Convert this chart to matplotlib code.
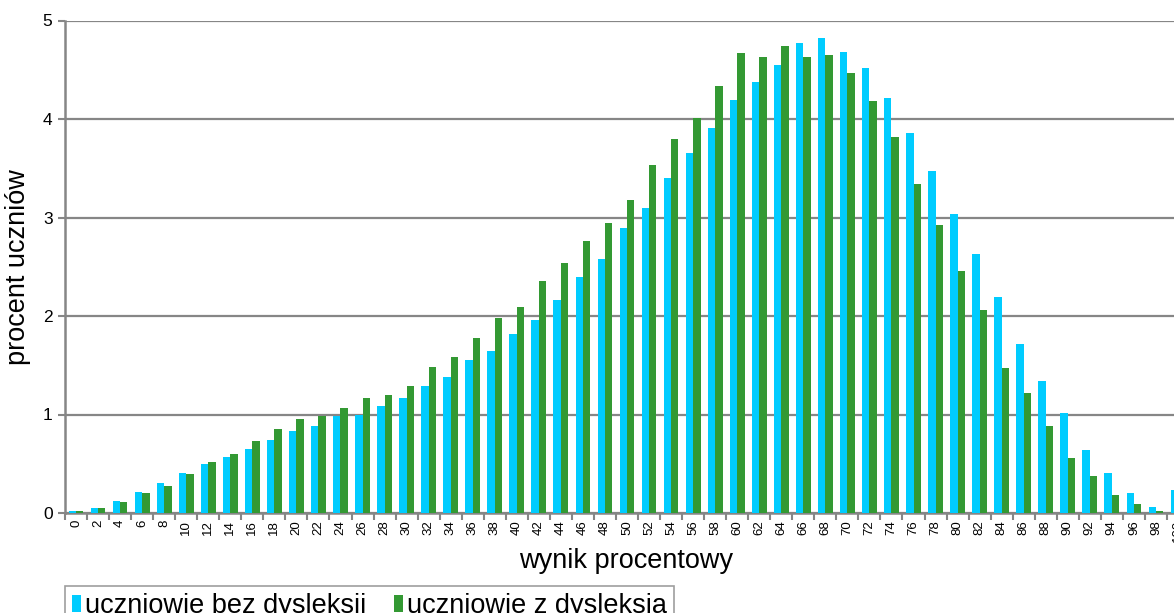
import numpy as np
import matplotlib.pyplot as plt
from matplotlib.patches import Patch

plt.rcParams['font.family'] = ['Liberation Sans', 'DejaVu Sans']

# Categories: percentage score 0..100 in steps of 2
wyniki = list(range(0, 101, 2))

# Percent of students
bez_dysleksji = [0.02, 0.05, 0.12, 0.21, 0.30, 0.41, 0.50, 0.57, 0.65, 0.74,
                 0.83, 0.88, 0.98, 1.00, 1.09, 1.17, 1.29, 1.38, 1.55, 1.64,
                 1.82, 1.96, 2.16, 2.40, 2.58, 2.89, 3.10, 3.40, 3.65, 3.91,
                 4.19, 4.38, 4.55, 4.77, 4.82, 4.68, 4.52, 4.21, 3.86, 3.47,
                 3.04, 2.63, 2.19, 1.72, 1.34, 1.02, 0.64, 0.41, 0.20, 0.06,
                 0.23]
z_dysleksja = [0.02, 0.05, 0.11, 0.20, 0.27, 0.40, 0.52, 0.60, 0.73, 0.85,
               0.95, 0.98, 1.07, 1.17, 1.20, 1.29, 1.48, 1.58, 1.78, 1.98,
               2.09, 2.36, 2.54, 2.76, 2.94, 3.18, 3.53, 3.80, 4.01, 4.33,
               4.67, 4.63, 4.74, 4.63, 4.65, 4.47, 4.18, 3.82, 3.34, 2.92,
               2.46, 2.06, 1.47, 1.22, 0.885, 0.56, 0.38, 0.18, 0.09, 0.024,
               0.03]

kolor_bez = '#00CCFF'
kolor_z = '#339933'
szary = '#868686'

fig = plt.figure(figsize=(11.74, 6.13), dpi=100)
# plot area runs past the right edge of the picture, like the reference
ax = fig.add_axes([65 / 1174, 100 / 613, 1124 / 1174, 492.5 / 613])

x = np.arange(len(wyniki))
w = 0.335
ax.bar(x - w / 2, bez_dysleksji, width=w, color=kolor_bez, zorder=3)
ax.bar(x + w / 2, z_dysleksja, width=w, color=kolor_z, zorder=3)

ax.set_xlim(-0.5, len(wyniki) - 0.5)
ax.set_ylim(0, 5)
ax.set_yticks(range(6))
ax.yaxis.grid(True, color=szary, linewidth=1.6, zorder=0)

# category labels centred, tick marks between categories
ax.set_xticks(x)
ax.set_xticklabels([str(v) for v in wyniki], rotation=90, fontsize=9.5)
ax.tick_params(axis='x', which='major', length=0, pad=5)
ax.set_xticks(np.arange(-0.5, len(wyniki), 1), minor=True)
ax.tick_params(axis='x', which='minor', length=5, width=1.5, color=szary)
ax.tick_params(axis='y', length=5, width=1.5, color=szary, labelsize=12.5, pad=4)

for s in ['top', 'right']:
    ax.spines[s].set_visible(False)
for s in ['left', 'bottom']:
    ax.spines[s].set_color(szary)
    ax.spines[s].set_linewidth(1.8)

ax.set_xlabel('wynik procentowy', fontsize=19.5, va='center')
ax.xaxis.set_label_coords(0.499, (513 - 561) / 492.5)
ax.set_ylabel('procent uczniów', fontsize=19.5, va='center')
ax.yaxis.set_label_coords((18 - 65) / 1124, 0.5)

uchwyty = [Patch(facecolor=kolor_bez, label='uczniowie bez dysleksji'),
           Patch(facecolor=kolor_z, label='uczniowie z dysleksją')]
leg = fig.legend(handles=uchwyty, loc='upper left',
                 bbox_to_anchor=(65 / 1174, 1 - 586 / 613), ncol=2,
                 fontsize=19.5, frameon=True, fancybox=False,
                 handlelength=0.35, handleheight=0.6, handletextpad=0.15,
                 columnspacing=1.0, borderpad=0.25, borderaxespad=0)
leg.get_frame().set_edgecolor(szary)
leg.get_frame().set_linewidth(1.2)

fig.savefig('out.png', dpi=100)
